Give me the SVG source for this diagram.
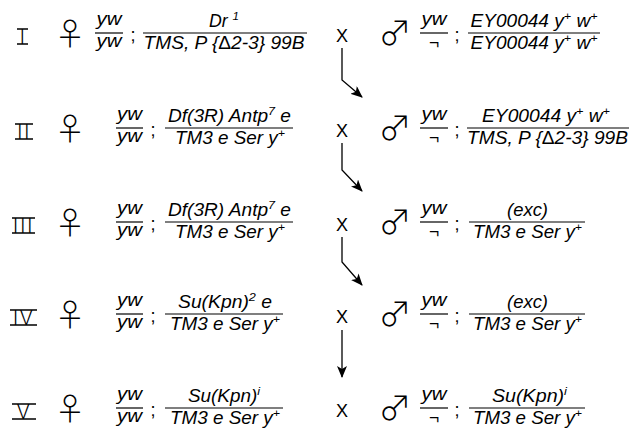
<svg xmlns="http://www.w3.org/2000/svg" width="630" height="435" viewBox="0 0 630 435">
  <defs>
    <style>
      .g { font-family: "Liberation Sans", Arial, sans-serif; font-style: italic; font-size: 17.5px; text-anchor: middle; fill: #000; }
      .semi { font-family: "Liberation Sans", Arial, sans-serif; font-size: 18px; text-anchor: middle; fill: #000; }
      .cross { font-family: "Liberation Sans", Arial, sans-serif; font-size: 18px; text-anchor: middle; fill: #000; }
      .num { font-family: Roboto, "DejaVu Sans", sans-serif; font-weight: 300; font-size: 21px; letter-spacing: 1.5px; text-anchor: middle; fill: #000; }
      .sex { font-family: "Noto Sans CJK JP", "DejaVu Sans", sans-serif; font-weight: 200; text-anchor: middle; fill: #000; }
      .fem { font-size: 31px; }
      .mal { font-size: 33px; }
      .sup { font-size: 11.5px; }
      .up { font-style: normal; }
      .bar { stroke: #000; stroke-width: 1.2; fill: none; }
      .rule { stroke: #000; stroke-width: 1.3; fill: none; }
      .link { stroke: #000; stroke-width: 1.3; fill: none; marker-end: url(#head); }
    </style>
    <marker id="head" viewBox="0 0 12 10" refX="11" refY="5" markerWidth="12" markerHeight="10" markerUnits="userSpaceOnUse" orient="auto">
      <path d="M0,0 L12,5 L0,10 L3,5 Z" fill="#000"/>
    </marker>
  </defs>
  <rect width="630" height="435" fill="#fff"/>

  <!-- generation I -->
  <g id="gen1-label">
    <text class="num" x="23" y="44">I</text>
    <path class="rule" d="M17,29 H28 M17,44 H28"/>
  </g>
  <g id="gen1-female">
    <text class="sex fem" x="70" y="45">♀</text>
    <text class="g" x="109" y="24.5" textLength="25" lengthAdjust="spacingAndGlyphs">yw</text>
    <line class="bar" x1="95" y1="33" x2="123" y2="33"/>
    <text class="g" x="109" y="46.5" textLength="25" lengthAdjust="spacingAndGlyphs">yw</text>
    <text class="semi" x="133" y="41">;</text>
    <text class="g" x="224" y="27" textLength="30" lengthAdjust="spacingAndGlyphs">Dr <tspan class="sup" dy="-7">1</tspan></text>
    <line class="bar" x1="143" y1="33" x2="307" y2="33"/>
    <text class="g" x="224" y="48.5" textLength="161" lengthAdjust="spacingAndGlyphs">TMS, P {<tspan class="up">Δ</tspan>2-3} 99B</text>
  </g>
  <g id="gen1-cross"><text class="cross" x="342" y="42">X</text></g>
  <g id="gen1-male">
    <text class="sex mal" x="395" y="45">♂</text>
    <text class="g" x="434" y="24.5" textLength="25" lengthAdjust="spacingAndGlyphs">yw</text>
    <line class="bar" x1="420" y1="33" x2="448" y2="33"/>
    <text class="g" x="434" y="49">¬</text>
    <text class="semi" x="457" y="41">;</text>
    <text class="g" x="534" y="27" textLength="127" lengthAdjust="spacingAndGlyphs">EY00044 y<tspan class="sup" dy="-7">+</tspan><tspan dy="7"> w</tspan><tspan class="sup" dy="-7">+</tspan></text>
    <line class="bar" x1="468" y1="33" x2="600" y2="33"/>
    <text class="g" x="534" y="48.5" textLength="127" lengthAdjust="spacingAndGlyphs">EY00044 y<tspan class="sup" dy="-7">+</tspan><tspan dy="7"> w</tspan><tspan class="sup" dy="-7">+</tspan></text>
  </g>

  <!-- generation II -->
  <g id="gen2-label">
    <text class="num" x="24" y="139">II</text>
    <path class="rule" d="M15,124 H33 M15,139 H33"/>
  </g>
  <g id="gen2-female">
    <text class="sex fem" x="70" y="140">♀</text>
    <text class="g" x="129.5" y="119.5" textLength="25" lengthAdjust="spacingAndGlyphs">yw</text>
    <line class="bar" x1="116" y1="128" x2="143" y2="128"/>
    <text class="g" x="129.5" y="141.5" textLength="25" lengthAdjust="spacingAndGlyphs">yw</text>
    <text class="semi" x="153" y="136">;</text>
    <text class="g" x="229.5" y="122" textLength="123" lengthAdjust="spacingAndGlyphs">Df(3R) Antp<tspan class="sup" dy="-7">7</tspan><tspan dy="7"> e</tspan></text>
    <line class="bar" x1="165" y1="128" x2="293" y2="128"/>
    <text class="g" x="230" y="143.5" textLength="110" lengthAdjust="spacingAndGlyphs">TM3 e Ser y<tspan class="sup" dy="-7">+</tspan></text>
  </g>
  <g id="gen2-cross"><text class="cross" x="342" y="137">X</text></g>
  <g id="gen2-male">
    <text class="sex mal" x="395" y="140">♂</text>
    <text class="g" x="434" y="119.5" textLength="25" lengthAdjust="spacingAndGlyphs">yw</text>
    <line class="bar" x1="420" y1="128" x2="448" y2="128"/>
    <text class="g" x="434" y="144">¬</text>
    <text class="semi" x="457" y="136">;</text>
    <text class="g" x="546" y="122" textLength="128" lengthAdjust="spacingAndGlyphs">EY00044 y<tspan class="sup" dy="-7">+</tspan><tspan dy="7"> w</tspan><tspan class="sup" dy="-7">+</tspan></text>
    <line class="bar" x1="467" y1="128" x2="629" y2="128"/>
    <text class="g" x="547.5" y="143.5" textLength="161" lengthAdjust="spacingAndGlyphs">TMS, P {<tspan class="up">Δ</tspan>2-3} 99B</text>
  </g>

  <!-- generation III -->
  <g id="gen3-label">
    <text class="num" x="23.5" y="233">III</text>
    <path class="rule" d="M12,218 H35 M12,233 H35"/>
  </g>
  <g id="gen3-female">
    <text class="sex fem" x="70" y="234">♀</text>
    <text class="g" x="129.5" y="213.5" textLength="25" lengthAdjust="spacingAndGlyphs">yw</text>
    <line class="bar" x1="116" y1="222" x2="143" y2="222"/>
    <text class="g" x="129.5" y="235.5" textLength="25" lengthAdjust="spacingAndGlyphs">yw</text>
    <text class="semi" x="153" y="230">;</text>
    <text class="g" x="229.5" y="216" textLength="123" lengthAdjust="spacingAndGlyphs">Df(3R) Antp<tspan class="sup" dy="-7">7</tspan><tspan dy="7"> e</tspan></text>
    <line class="bar" x1="165" y1="222" x2="293" y2="222"/>
    <text class="g" x="230" y="237.5" textLength="110" lengthAdjust="spacingAndGlyphs">TM3 e Ser y<tspan class="sup" dy="-7">+</tspan></text>
  </g>
  <g id="gen3-cross"><text class="cross" x="342" y="231">X</text></g>
  <g id="gen3-male">
    <text class="sex mal" x="395" y="234">♂</text>
    <text class="g" x="434" y="213.5" textLength="25" lengthAdjust="spacingAndGlyphs">yw</text>
    <line class="bar" x1="420" y1="222" x2="448" y2="222"/>
    <text class="g" x="434" y="238">¬</text>
    <text class="semi" x="457" y="230">;</text>
    <text class="g" x="527.5" y="216" textLength="41" lengthAdjust="spacingAndGlyphs">(exc)</text>
    <line class="bar" x1="469" y1="222" x2="585" y2="222"/>
    <text class="g" x="527.5" y="237.5" textLength="109" lengthAdjust="spacingAndGlyphs">TM3 e Ser y<tspan class="sup" dy="-7">+</tspan></text>
  </g>

  <!-- generation IV -->
  <g id="gen4-label">
    <text class="num" x="23.5" y="325">IV</text>
    <path class="rule" d="M10,310 H37 M10,325 H37"/>
  </g>
  <g id="gen4-female">
    <text class="sex fem" x="70" y="326">♀</text>
    <text class="g" x="129.5" y="305.5" textLength="25" lengthAdjust="spacingAndGlyphs">yw</text>
    <line class="bar" x1="116" y1="314" x2="143" y2="314"/>
    <text class="g" x="129.5" y="327.5" textLength="25" lengthAdjust="spacingAndGlyphs">yw</text>
    <text class="semi" x="153" y="322">;</text>
    <text class="g" x="225" y="308" textLength="94" lengthAdjust="spacingAndGlyphs">Su(Kpn)<tspan class="sup" dy="-7">2</tspan><tspan dy="7"> e</tspan></text>
    <line class="bar" x1="165" y1="314" x2="283" y2="314"/>
    <text class="g" x="225" y="329.5" textLength="110" lengthAdjust="spacingAndGlyphs">TM3 e Ser y<tspan class="sup" dy="-7">+</tspan></text>
  </g>
  <g id="gen4-cross"><text class="cross" x="342" y="323">X</text></g>
  <g id="gen4-male">
    <text class="sex mal" x="395" y="326">♂</text>
    <text class="g" x="434" y="305.5" textLength="25" lengthAdjust="spacingAndGlyphs">yw</text>
    <line class="bar" x1="420" y1="314" x2="448" y2="314"/>
    <text class="g" x="434" y="330">¬</text>
    <text class="semi" x="457" y="322">;</text>
    <text class="g" x="527.5" y="308" textLength="41" lengthAdjust="spacingAndGlyphs">(exc)</text>
    <line class="bar" x1="469" y1="314" x2="585" y2="314"/>
    <text class="g" x="527.5" y="329.5" textLength="109" lengthAdjust="spacingAndGlyphs">TM3 e Ser y<tspan class="sup" dy="-7">+</tspan></text>
  </g>

  <!-- generation V -->
  <g id="gen5-label">
    <text class="num" x="24" y="419">V</text>
    <path class="rule" d="M12,404 H36 M12,419 H36"/>
  </g>
  <g id="gen5-female">
    <text class="sex fem" x="70" y="420">♀</text>
    <text class="g" x="129.5" y="399.5" textLength="25" lengthAdjust="spacingAndGlyphs">yw</text>
    <line class="bar" x1="116" y1="408" x2="143" y2="408"/>
    <text class="g" x="129.5" y="421.5" textLength="25" lengthAdjust="spacingAndGlyphs">yw</text>
    <text class="semi" x="153" y="416">;</text>
    <text class="g" x="224" y="402" textLength="72" lengthAdjust="spacingAndGlyphs">Su(Kpn)<tspan class="sup" dy="-7">i</tspan></text>
    <line class="bar" x1="165" y1="408" x2="283" y2="408"/>
    <text class="g" x="225" y="423.5" textLength="110" lengthAdjust="spacingAndGlyphs">TM3 e Ser y<tspan class="sup" dy="-7">+</tspan></text>
  </g>
  <g id="gen5-cross"><text class="cross" x="342" y="417">X</text></g>
  <g id="gen5-male">
    <text class="sex mal" x="395" y="420">♂</text>
    <text class="g" x="434" y="399.5" textLength="25" lengthAdjust="spacingAndGlyphs">yw</text>
    <line class="bar" x1="420" y1="408" x2="448" y2="408"/>
    <text class="g" x="434" y="424">¬</text>
    <text class="semi" x="457" y="416">;</text>
    <text class="g" x="529.5" y="402" textLength="75" lengthAdjust="spacingAndGlyphs">Su(Kpn)<tspan class="sup" dy="-7">i</tspan></text>
    <line class="bar" x1="469" y1="408" x2="585" y2="408"/>
    <text class="g" x="527.5" y="423.5" textLength="109" lengthAdjust="spacingAndGlyphs">TM3 e Ser y<tspan class="sup" dy="-7">+</tspan></text>
  </g>

  <!-- descent arrows between generations -->
  <g id="connectors">
    <path class="link" d="M342,48 V80 L362,97"/>
    <path class="link" d="M342,143 V170 L362,191"/>
    <path class="link" d="M342,237 V262 L362,285"/>
    <path class="link" d="M342,330 V377"/>
  </g>
</svg>
